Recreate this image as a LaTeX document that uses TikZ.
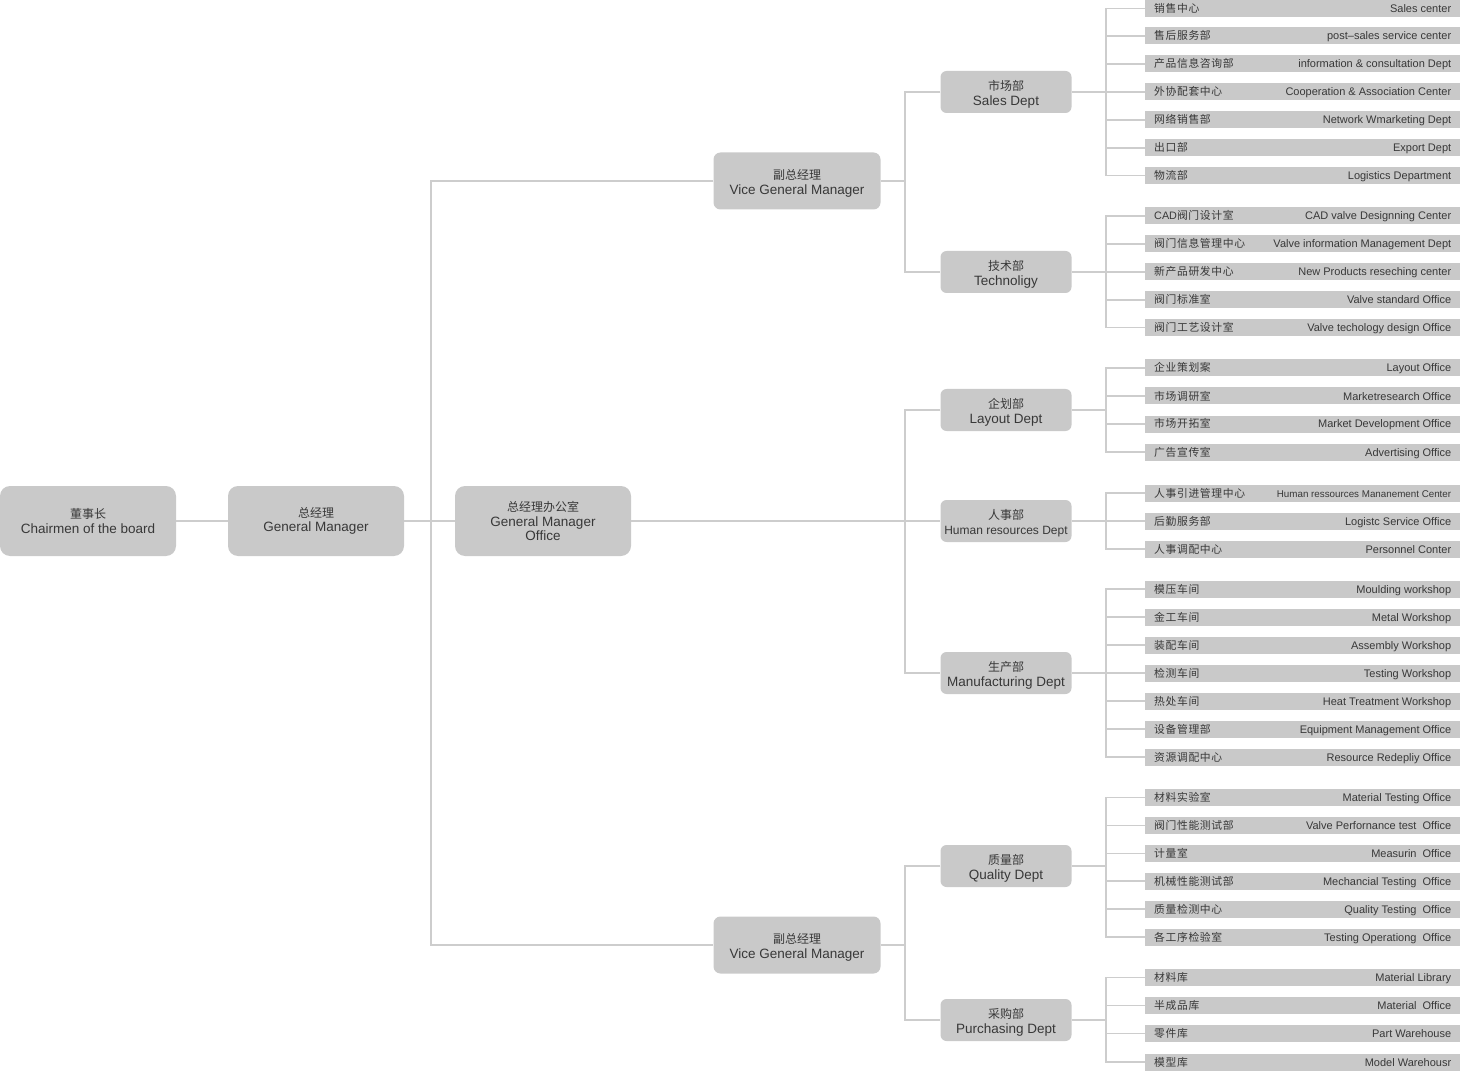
\documentclass[tikz,border=0pt]{standalone}
\usepackage{fontspec}
\setmainfont{Liberation Sans}
\newfontfamily\cjk{Noto Sans CJK SC}
\newfontfamily\cjkleaf[LetterSpace=6]{Noto Sans CJK SC}
\usetikzlibrary{calc}
\definecolor{boxgray}{HTML}{C9C9C9}
\definecolor{linegray}{HTML}{CDCDCD}
\definecolor{txt}{HTML}{383838}
\newcommand\zh[1]{{\cjk\fontsize{12}{14.5}\selectfont #1}}
\newcommand\zhs[1]{{\cjk\fontsize{12}{15}\selectfont\rule{0pt}{14.5pt}#1}}
\tikzset{
  conn/.style={draw=linegray, line width=1.5pt},
  bignode/.style={fill=boxgray, rounded corners=10pt, minimum width=176pt, minimum height=70pt, align=center, text=txt, font=\fontsize{13.5}{14.5}\selectfont, inner sep=0pt},
  vgmnode/.style={bignode, minimum width=167pt, minimum height=57pt, rounded corners=7pt, font=\fontsize{13.5}{15}\selectfont},
  deptnode/.style={bignode, minimum width=131pt, minimum height=42pt, rounded corners=6pt, font=\fontsize{13.5}{14.5}\selectfont},
  leafbar/.style={fill=boxgray, minimum width=315pt, minimum height=17pt, inner sep=0pt, anchor=west},
  leafcn/.style={anchor=base west, text=txt, font={\cjkleaf\fontsize{10.8}{12}\selectfont}, inner sep=0pt},
  leafen/.style={anchor=base east, text=txt, font=\fontsize{11}{12}\selectfont, inner sep=0pt},
}
\newcommand\leafrow[5]{%
  \node[leafbar] (#1) at (1145,#3) {};
  \node[leafcn] (#1c) at ($(#1.west)+(9,4)$) {#4};
  \node[leafen] (#1e) at ($(#1.east)+(-9,4)$) {#5};
  \draw[conn] (#2j) |- (#1.west);
}
\begin{document}
\begin{tikzpicture}[x=1pt,y=-1pt]
\useasboundingbox (0,0) rectangle (1460,1083);
% main chain
\node[bignode] (chair) at (88,521) {\zh{董事长}\\Chairmen of the board};
\node[bignode] (gm) at (316,521) {\zh{总经理}\\General Manager};
\node[bignode] (gmo) at (543,521) {\zh{总经理办公室}\\General Manager\\Office};
\node[vgmnode] (vgma) at (797,181) {\zhs{副总经理}\\Vice General Manager};
\node[vgmnode] (vgmb) at (797,945) {\zhs{副总经理}\\Vice General Manager};
% departments
\node[deptnode] (sales) at (1006,92) {\zhs{市场部}\\Sales Dept};
\node[deptnode] (tech) at (1006,272) {\zhs{技术部}\\Technoligy};
\node[deptnode] (layout) at (1006,410) {\zhs{企划部}\\Layout Dept};
\node[deptnode] (hr) at (1006,521) {\zhs{人事部}\\{\fontsize{12}{14.5}\selectfont Human resources Dept}};
\node[deptnode] (manu) at (1006,673) {\zhs{生产部}\\Manufacturing Dept};
\node[deptnode] (qual) at (1006,866) {\zhs{质量部}\\Quality Dept};
\node[deptnode] (purch) at (1006,1020) {\zhs{采购部}\\Purchasing Dept};
% connectors, upper levels
\draw[conn] (chair.east) -- (gm.west);
\draw[conn] (gm.east) -- (gmo.west);
\coordinate (t1) at (431,521);
\draw[conn] (vgma.west) -| (t1) |- (vgmb.west);
\draw[conn] (gmo.east) -- (hr.west);
\coordinate (t2) at (905,521);
\draw[conn] (layout.west) -| (t2) |- (manu.west);
\coordinate (t3) at (905,181);
\draw[conn] (vgma.east) -- (t3);
\draw[conn] (sales.west) -| (t3) |- (tech.west);
\coordinate (t4) at (905,945);
\draw[conn] (vgmb.east) -- (t4);
\draw[conn] (qual.west) -| (t4) |- (purch.west);
% leaf junctions
\foreach \d/\yy in {sales/92,tech/272,layout/410,hr/521,manu/673,qual/866,purch/1020}{
  \coordinate (\d j) at (1106,\yy);
  \draw[conn] (\d.east) -- (\d j);
}
% sales
\leafrow{s1}{sales}{8.5}{销售中心}{Sales center}
\leafrow{s2}{sales}{36}{售后服务部}{post--sales service center}
\leafrow{s3}{sales}{64}{产品信息咨询部}{information \& consultation Dept}
\leafrow{s4}{sales}{92}{外协配套中心}{Cooperation \& Association Center}
\leafrow{s5}{sales}{120}{网络销售部}{Network Wmarketing Dept}
\leafrow{s6}{sales}{148}{出口部}{Export Dept}
\leafrow{s7}{sales}{175.5}{物流部}{Logistics Department}
% tech
\leafrow{t1l}{tech}{216}{{\rmfamily CAD}阀门设计室}{CAD valve Designning Center}
\leafrow{t2l}{tech}{244}{阀门信息管理中心}{Valve information Management Dept}
\leafrow{t3l}{tech}{272}{新产品研发中心}{New Products reseching center}
\leafrow{t4l}{tech}{300}{阀门标准室}{Valve standard Office}
\leafrow{t5l}{tech}{327.5}{阀门工艺设计室}{Valve techology design Office}
% layout
\leafrow{l1}{layout}{368}{企业策划案}{Layout Office}
\leafrow{l2}{layout}{396}{市场调研室}{Marketresearch Office}
\leafrow{l3}{layout}{424}{市场开拓室}{Market Development Office}
\leafrow{l4}{layout}{452}{广告宣传室}{Advertising Office}
% hr
\leafrow{h1}{hr}{493}{人事引进管理中心}{{\fontsize{9.8}{12}\selectfont Human ressources Mananement Center}}
\leafrow{h2}{hr}{521}{后勤服务部}{Logistc Service Office}
\leafrow{h3}{hr}{549}{人事调配中心}{Personnel Conter}
% manufacturing
\leafrow{m1}{manu}{589}{模压车间}{Moulding workshop}
\leafrow{m2}{manu}{617}{金工车间}{Metal Workshop}
\leafrow{m3}{manu}{645}{装配车间}{Assembly Workshop}
\leafrow{m4}{manu}{673}{检测车间}{Testing Workshop}
\leafrow{m5}{manu}{701}{热处车间}{Heat Treatment Workshop}
\leafrow{m6}{manu}{729}{设备管理部}{Equipment Management Office}
\leafrow{m7}{manu}{757}{资源调配中心}{Resource Redepliy Office}
% quality
\leafrow{q1}{qual}{797.5}{材料实验室}{Material Testing Office}
\leafrow{q2}{qual}{825.5}{阀门性能测试部}{Valve Perfornance test\ \ Office}
\leafrow{q3}{qual}{853.5}{计量室}{Measurin\ \ Office}
\leafrow{q4}{qual}{881}{机械性能测试部}{Mechancial Testing\ \ Office}
\leafrow{q5}{qual}{909}{质量检测中心}{Quality Testing\ \ Office}
\leafrow{q6}{qual}{937}{各工序检验室}{Testing Operationg\ \ Office}
% purchasing
\leafrow{p1}{purch}{977.5}{材料库}{Material Library}
\leafrow{p2}{purch}{1005.5}{半成品库}{Material\ \ Office}
\leafrow{p3}{purch}{1033.5}{零件库}{Part Warehouse}
\leafrow{p4}{purch}{1062}{模型库}{Model Warehousr}
\end{tikzpicture}
\end{document}
